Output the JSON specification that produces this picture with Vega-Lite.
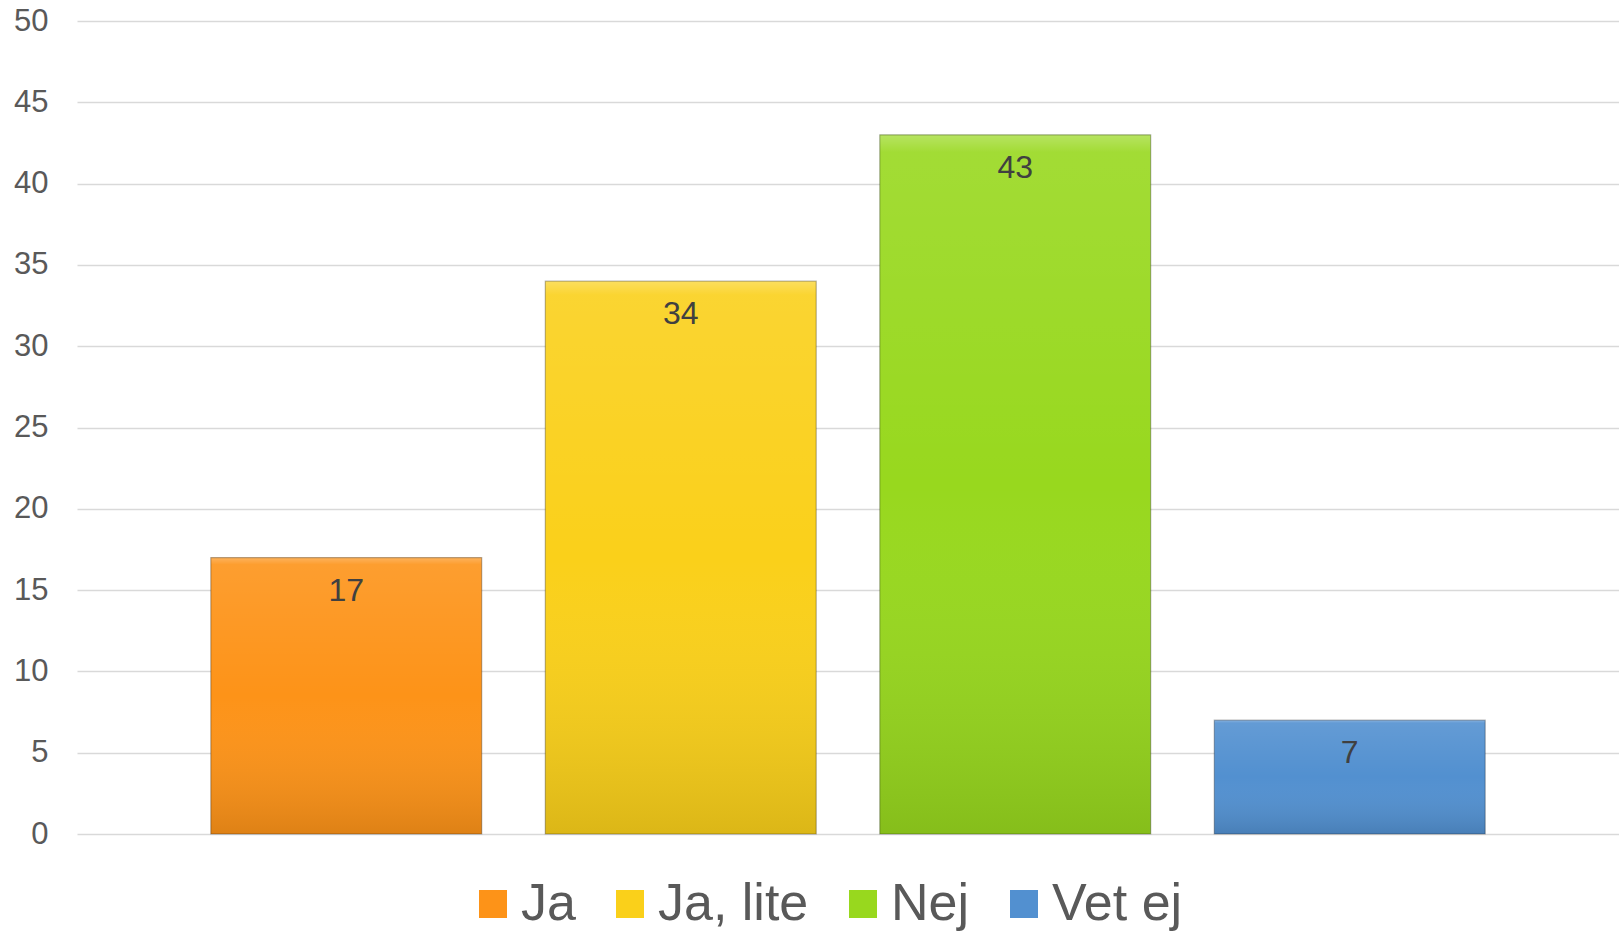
{
  "$schema": "https://vega.github.io/schema/vega-lite/v6.json",
  "width": 1542,
  "height": 813,
  "autosize": {"type": "none"},
  "padding": {"left": 77, "top": 21, "right": 0, "bottom": 98},
  "background": "white",
  "config": {
    "view": {"stroke": null},
    "font": "Liberation Sans"
  },
  "data": {
    "values": [
      {"svar": "Ja", "antal": 17},
      {"svar": "Ja, lite", "antal": 34},
      {"svar": "Nej", "antal": 43},
      {"svar": "Vet ej", "antal": 7}
    ]
  },
  "encoding": {
    "x": {
      "field": "svar",
      "type": "nominal",
      "sort": ["Ja", "Ja, lite", "Nej", "Vet ej"],
      "scale": {"paddingInner": 0.19, "paddingOuter": 0.4},
      "axis": null
    },
    "y": {
      "field": "antal",
      "type": "quantitative",
      "scale": {"domain": [0, 50]},
      "axis": {
        "values": [0, 5, 10, 15, 20, 25, 30, 35, 40, 45, 50],
        "title": null,
        "domain": false,
        "ticks": false,
        "labelFontSize": 31,
        "labelColor": "#595959",
        "labelPadding": 29,
        "gridColor": "#d9d9d9",
        "gridWidth": 1.5
      }
    }
  },
  "layer": [
    {
      "mark": {"type": "bar"},
      "encoding": {
        "color": {
          "field": "svar",
          "type": "nominal",
          "scale": {
            "domain": ["Ja", "Ja, lite", "Nej", "Vet ej"],
            "range": ["#FD9318", "#FAD01A", "#98D81E", "#5290D0"]
          },
          "legend": {
            "title": null,
            "orient": "none",
            "legendX": 390,
            "legendY": 857,
            "padding": 0,
            "direction": "horizontal",
            "symbolType": "square",
            "symbolSize": 784,
            "symbolStrokeWidth": 0,
            "labelFontSize": 52,
            "labelLimit": 400,
            "labelColor": "#595959",
            "labelOffset": 2,
            "columnPadding": 28,
            "symbolOpacity": 1
          }
        }
      }
    },
    {
      "mark": {
        "type": "bar",
        "stroke": "rgba(0,0,0,0.28)",
        "strokeWidth": 1.2,
        "color": {
          "gradient": "linear",
          "x1": 0, "y1": 0, "x2": 0, "y2": 1,
          "stops": [
            {"offset": 0, "color": "rgba(255,255,255,0.3)"},
            {"offset": 0.025, "color": "rgba(255,255,255,0.1)"},
            {"offset": 0.5, "color": "rgba(255,255,255,0.0)"},
            {"offset": 1, "color": "rgba(0,0,0,0.12)"}
          ]
        }
      }
    },
    {
      "mark": {
        "type": "text",
        "baseline": "middle",
        "dy": 33,
        "fontSize": 32,
        "color": "#404040"
      },
      "encoding": {
        "text": {"field": "antal", "type": "quantitative"}
      }
    }
  ]
}
